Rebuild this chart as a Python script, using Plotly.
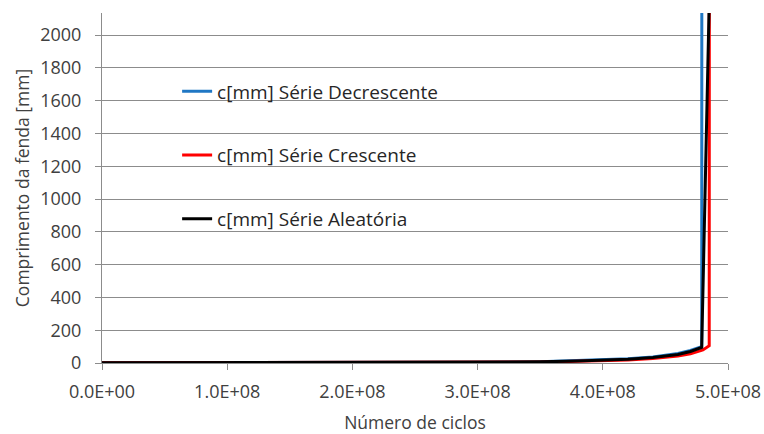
import plotly.graph_objects as go

# Crack length growth versus number of load cycles for three load-sequence series
ciclos_dec = [0, 0.5e8, 1.0e8, 1.5e8, 2.0e8, 2.5e8, 3.0e8, 3.5e8, 3.8e8, 4.0e8, 4.2e8,
              4.4e8, 4.5e8, 4.6e8, 4.7e8, 4.75e8, 4.79e8, 4.792e8]
c_dec = [1.0, 1.3, 1.7, 2.2, 2.9, 3.8, 5.2, 8, 14, 19, 26, 37, 46, 58, 76, 88, 100, 5000]

ciclos_cre = [0, 0.5e8, 1.0e8, 1.5e8, 2.0e8, 2.5e8, 3.0e8, 3.5e8, 3.8e8, 4.0e8, 4.2e8,
              4.4e8, 4.5e8, 4.6e8, 4.7e8, 4.8e8, 4.85e8, 4.852e8]
c_cre = [1.0, 1.2, 1.5, 1.9, 2.4, 3.1, 4.2, 6, 10, 14, 19, 27, 34, 43, 56, 80, 105, 5000]

ciclos_ale = [0, 0.5e8, 1.0e8, 1.5e8, 2.0e8, 2.5e8, 3.0e8, 3.5e8, 3.8e8, 4.0e8, 4.2e8,
              4.4e8, 4.5e8, 4.6e8, 4.7e8, 4.79e8, 4.86e8]
c_ale = [1.0, 1.3, 1.6, 2.1, 2.7, 3.6, 4.9, 7, 12, 17, 23, 33, 41, 52, 70, 95, 2550]

x_ticks = [0, 1e8, 2e8, 3e8, 4e8, 5e8]
x_tick_labels = ["0.0E+00", "1.0E+08", "2.0E+08", "3.0E+08", "4.0E+08", "5.0E+08"]
y_ticks = [0, 200, 400, 600, 800, 1000, 1200, 1400, 1600, 1800, 2000]

FONT = "Open Sans"
TXT = "#404040"
GRID = "#8c8c8c"

fig = go.Figure()
series = [
    ("c[mm] Série Decrescente", ciclos_dec, c_dec, "#1f77c4"),
    ("c[mm] Série Crescente", ciclos_cre, c_cre, "#ff0000"),
    ("c[mm] Série Aleatória", ciclos_ale, c_ale, "#000000"),
]
for i, (nome, xs, ys, cor) in enumerate(series):
    fig.add_trace(go.Scatter(
        x=xs, y=ys, mode="lines", name=nome, legendgroup=f"g{i}",
        line=dict(color=cor, width=3),
    ))

fig.update_layout(
    width=764, height=434,
    margin=dict(l=102, r=36, t=13, b=71),
    paper_bgcolor="white", plot_bgcolor="white",
    font=dict(family=FONT, size=18, color=TXT),
    showlegend=True,
    legend=dict(
        x=0.12, y=0.83, xanchor="left", yanchor="top",
        bgcolor="rgba(0,0,0,0)", traceorder="grouped", tracegroupgap=36,
        font=dict(family=FONT, size=19, color="#262626"),
        itemwidth=30,
    ),
    xaxis=dict(
        range=[0, 5e8], tickvals=x_ticks, ticktext=x_tick_labels,
        automargin=False,
        showgrid=False, zeroline=False,
        showline=True, linecolor=GRID, linewidth=1,
        ticks="outside", ticklen=6, tickcolor=GRID,
        ticklabelstandoff=6,
        tickfont=dict(size=18, color=TXT),
        title=dict(text="Número de ciclos", font=dict(size=17.5, color=TXT), standoff=22),
    ),
    yaxis=dict(
        range=[0, 2135], tickvals=y_ticks,
        automargin=False,
        showgrid=True, gridcolor=GRID, gridwidth=1, zeroline=False,
        showline=True, linecolor=GRID, linewidth=1,
        ticks="outside", ticklen=6, tickcolor=GRID,
        ticklabelstandoff=10,
        tickfont=dict(size=18, color=TXT),
        title=dict(text="Comprimento da fenda [mm]", font=dict(size=17.5, color=TXT), standoff=6),
    ),
)

fig.write_html("out.html")
